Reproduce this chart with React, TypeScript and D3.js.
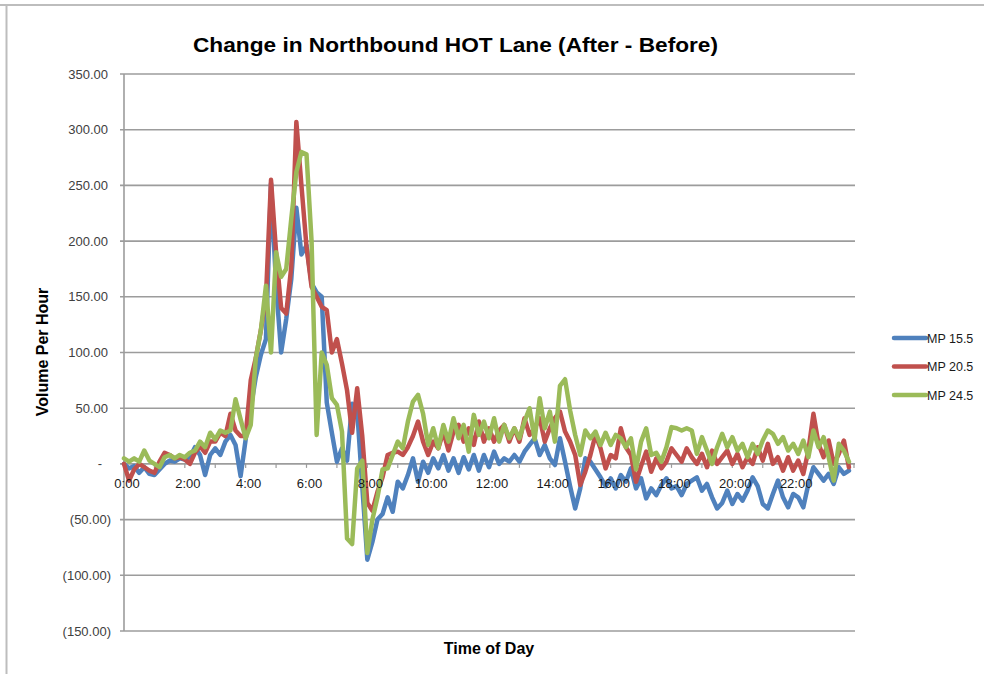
import React from "react";
import * as d3 from "d3";

// 10-minute samples, 0:00 .. 23:50
const mp155: number[] = [
  0, -4, -2, -8, -3, -9,
  -10, -5, 0, 3, 2, 5,
  4, 6, 15, 8, -10, 8,
  14, 8, 20, 26, 17, -11,
  22, 50, 78, 98, 112, 252,
  160, 100, 130, 166, 230, 188,
  196, 162, 154, 150, 55, 28,
  2, 14, 3, 54, 48, -20,
  -86, -70, -50, -45, -30, -43,
  -16, -22, -10, 5, -16, 2,
  -8, 5, -4, 8, -6, 5,
  -8, 6, -5, 8, -6, 8,
  -3, 11, 0, 5, 2, 8,
  2, 11, 17, 23, 8, 17,
  5, -1, 23, 2, -20, -40,
  -22, 5, 2, -5, -12, -20,
  -13, -22, -10, -16, -4, -22,
  -13, -31, -22, -28, -19, -13,
  -22, -20, -28, -18, -15, -12,
  -24, -18, -30, -40, -35, -24,
  -36, -27, -33, -24, -12, -20,
  -36, -40, -27, -15, -30, -39,
  -27, -30, -39, -18, -3, -9,
  -15, -9, -18, -3, -9, -6,
];

const mp205: number[] = [
  0, -15, -5, 0, -3, -6,
  -8, 2, 10, 8, 5, 6,
  4, 0, 10, 16, 10, 20,
  20, 28, 25, 45, 30, 25,
  25, 75, 95, 120, 150, 255,
  190, 140, 135, 177, 307, 250,
  195, 159, 150, 141, 138, 100,
  112, 90, 66, 28, 68, 25,
  -35, -42, -25, -12, 8, 10,
  11, 8, 15, 25, 38, 20,
  8, 20, 14, 29, 12, 29,
  35, 20, 32, 17, 38, 20,
  32, 20, 30, 35, 20, 32,
  20, 41, 26, 32, 41, 20,
  32, 41, 47, 29, 20, 8,
  -19, -7, 8, 26, 14, -4,
  8, 5, 32, 15, 8, -16,
  -2, 11, -7, 5, -4, 2,
  14, 8, 2, 14, 6, 0,
  9, -3, 12, 0, 6, 12,
  0, 9, -3, 6, 0, 15,
  3, 18, 0, 6, -6, 6,
  -6, 3, -9, 12, 45, 18,
  6, 21, 0, 9, 21, -3,
];

const mp245: number[] = [
  5, 2, 5, 2, 12, 3,
  0, -3, 6, 8, 5, 8,
  6, 10, 12, 20, 15, 28,
  22, 30, 28, 30, 58, 40,
  23, 35, 95, 120, 160, 100,
  190, 168, 175, 220, 262, 280,
  278, 200, 26, 100, 89, 59,
  53, 29, -67, -72, -4, 3,
  -80, -50, -30, -5, -4, 8,
  20, 14, 38, 56, 62, 45,
  17, 32, 14, 35, 20, 41,
  23, 35, 11, 44, 26, 38,
  23, 41, 20, 35, 23, 32,
  23, 38, 50, 22, 59, 32,
  47, 20, 70, 76, 48, 26,
  8, 30, 23, 29, 17, 28,
  17, 26, 23, 15, 23, -5,
  20, 32, 8, 10, 2, 15,
  33, 32, 30, 32, 30, 9,
  24, 12, 0, 15, 27, 15,
  24, 12, 18, 6, 18, 9,
  21, 30, 27, 18, 24, 12,
  18, 9, 21, 6, 30, 15,
  24, 6, -15, 18, 12, 2,
];

const seriesNames = ["MP 15.5", "MP 20.5", "MP 24.5"];
const seriesColors = ["#4F81BD", "#C0504D", "#9BBB59"];
const yTicks = [350, 300, 250, 200, 150, 100, 50, 0, -50, -100, -150];
const xLabelHours = [0, 2, 4, 6, 8, 10, 12, 14, 16, 18, 20, 22];

const W = 984;
const H = 674;
const plot = { left: 124, right: 854, top: 74, bottom: 631 };

function fmtY(v: number): string {
  if (v === 0) return "-";
  const s = Math.abs(v).toFixed(2);
  return v < 0 ? `(${s})` : s;
}

export default function App() {
  const x = d3.scaleLinear().domain([0, 1440]).range([plot.left, plot.right]);
  const y = d3.scaleLinear().domain([-150, 350]).range([plot.bottom, plot.top]);
  const all = [mp155, mp205, mp245];
  const line = d3
    .line<number>()
    .x((_, i) => x(i * 10))
    .y((d) => y(d));
  const font = "'Liberation Sans', Arial, sans-serif";
  const hours = d3.range(0, 25);

  return (
    <svg
      width={W}
      height={H}
      style={{ position: "absolute", left: 0, top: 0, background: "#fff" }}
      fontFamily={font}
    >
      <rect x={0} y={0} width={W} height={H} fill="#fff" />
      <line x1={0} x2={W} y1={5} y2={5} stroke="#bdbdbd" strokeWidth={2} />
      <line x1={6.5} x2={6.5} y1={5} y2={H} stroke="#bdbdbd" strokeWidth={2} />

      <text
        x={455.5}
        y={52}
        textAnchor="middle"
        fontSize={20}
        fontWeight="bold"
        fill="#000"
        textLength={525}
        lengthAdjust="spacingAndGlyphs"
      >
        Change in Northbound HOT Lane (After - Before)
      </text>

      {/* gridlines */}
      {yTicks.map((t) => (
        <g key={t}>
          <line x1={plot.left - 4} x2={plot.right + 1} y1={y(t)} y2={y(t)} stroke="#9c9c9c" strokeWidth={1.6} />
          <text
            x={t === 0 ? 100 : t < 0 ? 111 : 108}
            y={y(t) + 4.5}
            textAnchor={t === 0 ? "middle" : "end"}
            fontSize={13}
            fill="#404040"
          >
            {fmtY(t)}
          </text>
        </g>
      ))}
      <line x1={plot.left} x2={plot.left} y1={plot.top} y2={plot.bottom} stroke="#9c9c9c" strokeWidth={1.6} />
      {hours.map((h) => (
        <line key={h} x1={x(h * 60)} x2={x(h * 60)} y1={y(0)} y2={y(0) + 4} stroke="#9c9c9c" strokeWidth={1.2} />
      ))}

      {/* series */}
      {all.map((s, k) => (
        <path
          key={k}
          d={line(s) || ""}
          fill="none"
          stroke={seriesColors[k]}
          strokeWidth={4.5}
          strokeLinejoin="round"
          strokeLinecap="round"
        />
      ))}

      {/* x labels */}
      {xLabelHours.map((h) => (
        <text key={h} x={x(h * 60) + 3} y={488} textAnchor="middle" fontSize={13} fill="#1a1a1a">
          {`${h}:00`}
        </text>
      ))}

      <text x={489} y={654} textAnchor="middle" fontSize={16} fontWeight="bold" fill="#000">
        Time of Day
      </text>
      <text
        transform={`translate(48, 352) rotate(-90)`}
        textAnchor="middle"
        fontSize={16}
        fontWeight="bold"
        fill="#000"
      >
        Volume Per Hour
      </text>

      {/* legend */}
      {seriesNames.map((n, k) => (
        <g key={n} transform={`translate(0, ${338 + k * 28.5})`}>
          <line x1={894} x2={926} y1={0} y2={0} stroke={seriesColors[k]} strokeWidth={4.5} strokeLinecap="round" />
          <text x={927} y={4.5} fontSize={12.5} fill="#1a1a1a">
            {n}
          </text>
        </g>
      ))}
    </svg>
  );
}
